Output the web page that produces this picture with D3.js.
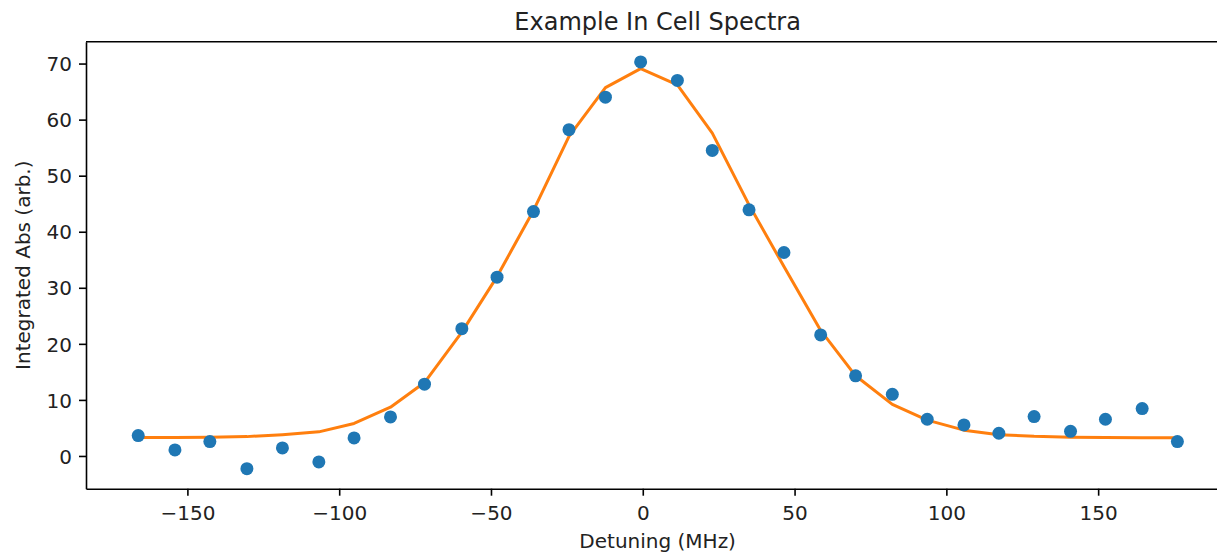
<!DOCTYPE html>
<html>
<head>
<meta charset="utf-8">
<script src="https://cdn.jsdelivr.net/npm/d3@7"></script>
<style>
  html, body { margin: 0; padding: 0; background: #fff; }
  svg { display: block; font-family: "DejaVu Sans", sans-serif; }
</style>
</head>
<body>
<svg id="chart" width="1217" height="554"></svg>
<script>
// Data
const detuning = [-166.2, -154.1, -142.6, -130.4, -118.7, -106.7, -95.1, -83.1, -71.9, -59.6,
                  -48.0, -36.0, -24.3, -12.3, -0.7, 11.4, 22.9, 35.0, 46.5, 58.6,
                  70.1, 82.2, 93.7, 105.8, 117.3, 128.9, 140.9, 152.4, 164.5, 176.1];
const measured = [3.63, 1.07, 2.56, -2.26, 1.43, -1.07, 3.21, 6.96, 12.8, 22.7,
                  31.9, 43.6, 58.2, 64.0, 70.3, 67.0, 54.5, 43.9, 36.3, 21.6,
                  14.3, 11.0, 6.55, 5.54, 4.05, 7.02, 4.40, 6.55, 8.45, 2.56];
const fitted   = [3.3, 3.3, 3.35, 3.45, 3.8, 4.3, 5.8, 8.7, 13.1, 22.1,
                  32.0, 43.8, 57.0, 65.7, 69.1, 66.2, 57.6, 44.8, 33.8, 22.4,
                  14.3, 9.2, 6.4, 4.6, 3.8, 3.5, 3.35, 3.3, 3.27, 3.25];
const xTicks = [-150, -100, -50, 0, 50, 100, 150];
const yTicks = [0, 10, 20, 30, 40, 50, 60, 70];
const titleText = "Example In Cell Spectra";
const xLabel = "Detuning (MHz)";
const yLabel = "Integrated Abs (arb.)";

(function () {
const svg = d3.select("#chart");
const pL = 86, pT = 41.7, pB = 488.7, pR = 1229.3;

const x = d3.scaleLinear().domain([-183.4, 193.2]).range([pL, pR]);
const y = d3.scaleLinear().domain([-5.84, 73.9]).range([pB, pT]);

const fmt = d => d3.format("d")(d).replace("-", "\u2212");

// Axes
const xAxis = svg.append("g")
  .attr("transform", `translate(0,${pB})`)
  .call(d3.axisBottom(x).tickValues(xTicks).tickFormat(fmt).tickSizeInner(7).tickSizeOuter(0).tickPadding(7));
const yAxis = svg.append("g")
  .attr("transform", `translate(${pL},0)`)
  .call(d3.axisLeft(y).tickValues(yTicks).tickFormat(fmt).tickSizeInner(7).tickSizeOuter(0).tickPadding(7));

[xAxis, yAxis].forEach(g => {
  g.selectAll("path.domain").attr("stroke", "#000").attr("stroke-width", 1.6);
  g.selectAll(".tick line").attr("stroke", "#000").attr("stroke-width", 1.6);
  g.selectAll(".tick text").attr("fill", "#222").attr("font-size", 20)
    .attr("font-family", "DejaVu Sans, sans-serif");
});
xAxis.selectAll(".tick text").attr("dy", null).attr("y", 31);
yAxis.selectAll(".tick text").attr("dy", "0.36em");

// Top spine
svg.append("line")
  .attr("x1", pL).attr("x2", pR).attr("y1", pT).attr("y2", pT)
  .attr("stroke", "#000").attr("stroke-width", 1.6);
// Right spine (off-canvas, clipped like the reference)
svg.append("line")
  .attr("x1", pR).attr("x2", pR).attr("y1", pT).attr("y2", pB)
  .attr("stroke", "#000").attr("stroke-width", 1.6);

// Fit line
const pts = detuning.map((d, i) => ({ x: d, m: measured[i], f: fitted[i] }));
svg.append("path")
  .datum(pts)
  .attr("fill", "none")
  .attr("stroke", "#ff7f0e")
  .attr("stroke-width", 3)
  .attr("stroke-linejoin", "round")
  .attr("d", d3.line().x(d => x(d.x)).y(d => y(d.f)));

// Data points
svg.append("g").selectAll("circle")
  .data(pts)
  .join("circle")
  .attr("cx", d => x(d.x))
  .attr("cy", d => y(d.m))
  .attr("r", 6.5)
  .attr("fill", "#1f77b4");

// Title and labels
svg.append("text")
  .attr("x", (pL + pR) / 2).attr("y", 29.5)
  .attr("text-anchor", "middle").attr("font-size", 24).attr("fill", "#222")
  .text(titleText);
svg.append("text")
  .attr("x", (pL + pR) / 2).attr("y", 548)
  .attr("text-anchor", "middle").attr("font-size", 20).attr("fill", "#222")
  .text(xLabel);
svg.append("text")
  .attr("transform", `translate(29.5,${(pT + pB) / 2}) rotate(-90)`)
  .attr("text-anchor", "middle").attr("font-size", 20).attr("fill", "#222")
  .text(yLabel);
})();
</script>
</body>
</html>
